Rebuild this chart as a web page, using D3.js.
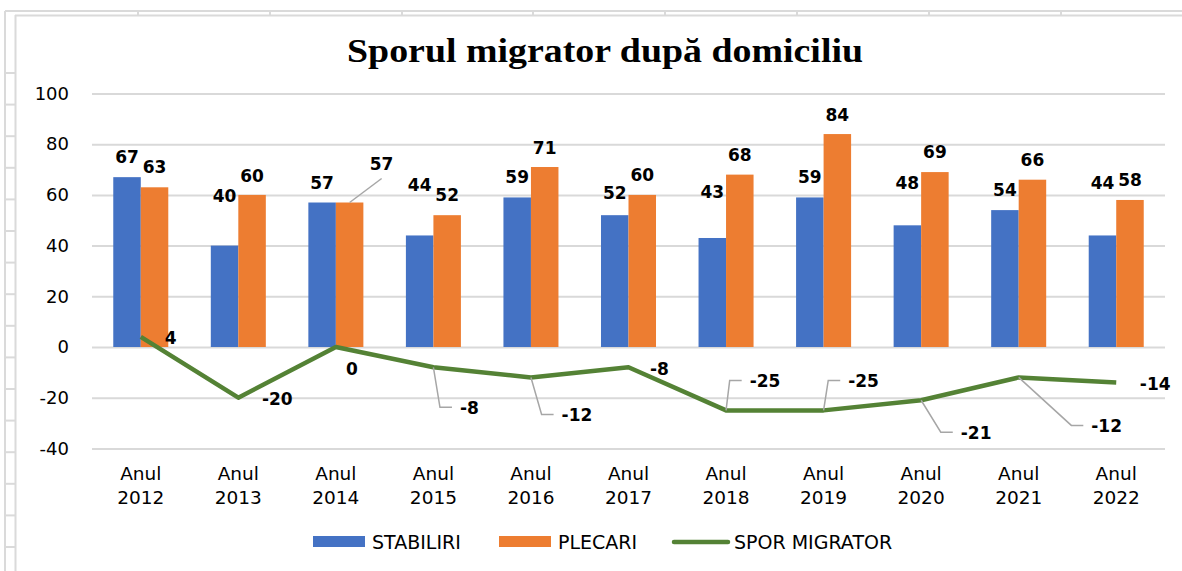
<!DOCTYPE html>
<html>
<head>
<meta charset="utf-8">
<script src="https://cdn.jsdelivr.net/npm/d3@7"></script>
<style>
    body { margin: 0; background: #fff; }
    svg { display: block; }
</style>
</head>
<body>
<div id="chart"></div>
<script>
// Data
const years = ["2012", "2013", "2014", "2015", "2016", "2017", "2018", "2019", "2020", "2021", "2022"];
const stabiliri = [67, 40, 57, 44, 59, 52, 43, 59, 48, 54, 44];
const plecari = [63, 60, 57, 52, 71, 60, 68, 84, 69, 66, 58];
const sporMigrator = [4, -20, 0, -8, -12, -8, -25, -25, -21, -12, -14];
const yTicks = [-40, -20, 0, 20, 40, 60, 80, 100];
const seriesNames = ["STABILIRI", "PLECARI", "SPOR MIGRATOR"];

// Label nudges (pixels), as Excel had them moved around
const stabNudge = [-20, -50, -20, -50, -20, -22, -46, -20, -42, -20, -52];
const plecNudge = [[0, -20], [0, -19], [32, -39], [0, -20], [0, -19], [0, -20], [0, -20], [0, -19], [0, -20], [0, -20], [0, -20]];
const sporNudge = [[30, 1], [39, 1], [16, 22], [36, 41], [46, 38], [31, 2], [39, -29], [40, -29], [55, 33], [88, 49], [39, 2]];
const sporLeader = [false, false, false, true, true, false, true, true, true, true, false];

const W = 1182, H = 571;
const colors = { stab: "#4472C4", plec: "#ED7D31", spor: "#548235", grid: "#D9D9D9", leader: "#A6A6A6" };
const sans = "'DejaVu Sans', sans-serif";

const svg = d3.select("#chart").append("svg").attr("width", W).attr("height", H);

// Spreadsheet cell lines behind the chart
const sheet = svg.append("g").attr("stroke", "#DADADA").attr("stroke-width", 2).attr("fill", "none");
sheet.append("line").attr("x1", 5).attr("x2", W).attr("y1", 11).attr("y2", 11);
sheet.append("line").attr("x1", 5).attr("x2", 5).attr("y1", 11).attr("y2", H);
sheet.append("line").attr("x1", 15).attr("x2", W).attr("y1", 15.5).attr("y2", 15.5);
sheet.append("line").attr("x1", 15.5).attr("x2", 15.5).attr("y1", 15).attr("y2", H);
[138, 270, 402, 533, 665, 797, 929, 1061].forEach((x) =>
    sheet.append("line").attr("x1", x).attr("x2", x).attr("y1", 11).attr("y2", 15));
d3.range(0, 16).forEach((i) => {
    const y = 73 + i * 31.6;
    sheet.append("line").attr("x1", 5).attr("x2", 15).attr("y1", y).attr("y2", y);
});

// Scales
const x = d3.scaleBand().domain(years).range([92, 1165]).paddingInner(0.436).paddingOuter(0.218);
const xs = d3.scaleBand().domain(["stab", "plec"]).range([0, x.bandwidth()]);
const y = d3.scaleLinear().domain([-40, 100]).range([448.4, 93.5]);
const cx = (yr) => x(yr) + x.bandwidth() / 2;

// Title
svg.append("text")
    .attr("x", 605).attr("y", 62)
    .attr("text-anchor", "middle")
    .attr("textLength", 516).attr("lengthAdjust", "spacingAndGlyphs")
    .style("font-family", "'Liberation Serif', 'Times New Roman', serif")
    .style("font-weight", "bold").style("font-size", "33px")
    .text("Sporul migrator după domiciliu");

// Y axis with gridlines
const yAxis = svg.append("g")
    .attr("transform", "translate(92,0)")
    .call(d3.axisLeft(y).tickValues(yTicks).tickSize(-(1165 - 92)).tickPadding(23).tickFormat((d) => String(d)));
yAxis.select(".domain").remove();
yAxis.selectAll(".tick line").attr("stroke", colors.grid).attr("stroke-width", 2);
yAxis.selectAll(".tick text").style("font-family", sans).style("font-size", "18px").attr("fill", "#000");

// X axis labels (two lines)
const xLab = svg.append("g").selectAll("text").data(years).enter().append("text")
    .attr("text-anchor", "middle")
    .style("font-family", sans).style("font-size", "18.5px").attr("fill", "#000");
xLab.append("tspan").attr("x", (d) => cx(d)).attr("y", 480).text("Anul");
xLab.append("tspan").attr("x", (d) => cx(d)).attr("y", 504).text((d) => d);

// Bars
const groups = svg.append("g").selectAll("g").data(years).enter().append("g")
    .attr("transform", (d) => "translate(" + x(d) + ",0)");
groups.append("rect")
    .attr("x", xs("stab")).attr("width", xs.bandwidth())
    .attr("y", (d, i) => y(stabiliri[i])).attr("height", (d, i) => y(0) - y(stabiliri[i]))
    .attr("fill", colors.stab);
groups.append("rect")
    .attr("x", xs("plec")).attr("width", xs.bandwidth())
    .attr("y", (d, i) => y(plecari[i])).attr("height", (d, i) => y(0) - y(plecari[i]))
    .attr("fill", colors.plec);

// Line
const line = d3.line().x((d, i) => cx(years[i])).y((d) => y(d));
svg.append("path").datum(sporMigrator)
    .attr("d", line).attr("fill", "none")
    .attr("stroke", colors.spor).attr("stroke-width", 4.5).attr("stroke-linejoin", "round");

// Data labels
const labels = svg.append("g")
    .style("font-family", sans).style("font-weight", "bold").style("font-size", "17px")
    .attr("fill", "#000").attr("text-anchor", "middle").attr("dominant-baseline", "central");

years.forEach((yr, i) => {
    const bx = x(yr) + xs("stab") + xs.bandwidth() / 2;
    labels.append("text").attr("x", bx).attr("y", y(stabiliri[i]) + stabNudge[i]).text(stabiliri[i]);

    const ox = x(yr) + xs("plec") + xs.bandwidth() / 2;
    const lx = ox + plecNudge[i][0], ly = y(plecari[i]) + plecNudge[i][1];
    labels.append("text").attr("x", lx).attr("y", ly).text(plecari[i]);
    if (plecNudge[i][0] !== 0) {
        svg.append("line")
            .attr("x1", ox).attr("y1", y(plecari[i]))
            .attr("x2", lx).attr("y2", ly + 15)
            .attr("stroke", colors.leader).attr("stroke-width", 1.5);
    }

    const px = cx(yr), py = y(sporMigrator[i]);
    const sx = px + sporNudge[i][0], sy = py + sporNudge[i][1];
    const t = labels.append("text").attr("x", sx).attr("y", sy).text(sporMigrator[i]);
    if (sporLeader[i]) {
        const left = sx - t.node().getComputedTextLength() / 2 - 8;
        svg.append("polyline")
            .attr("points", [[px, py], [left - 12, sy - 1], [left, sy - 1]].map((p) => p.join(",")).join(" "))
            .attr("fill", "none").attr("stroke", colors.leader).attr("stroke-width", 1.5);
    }
});

// Legend
const legend = svg.append("g").style("font-family", sans).style("font-size", "19px");
const legendX = [313, 499, 672];
legend.append("rect").attr("x", legendX[0]).attr("y", 536).attr("width", 52).attr("height", 11).attr("fill", colors.stab);
legend.append("rect").attr("x", legendX[1]).attr("y", 536).attr("width", 52).attr("height", 11).attr("fill", colors.plec);
legend.append("line").attr("x1", legendX[2] + 2).attr("x2", legendX[2] + 56).attr("y1", 542).attr("y2", 542)
    .attr("stroke", colors.spor).attr("stroke-width", 4.5).attr("stroke-linecap", "round");
legend.selectAll("text").data(seriesNames).enter().append("text")
    .attr("x", (d, i) => legendX[i] + (i === 2 ? 62 : 59))
    .attr("y", 542).attr("dominant-baseline", "central")
    .text((d) => d);
</script>
</body>
</html>
